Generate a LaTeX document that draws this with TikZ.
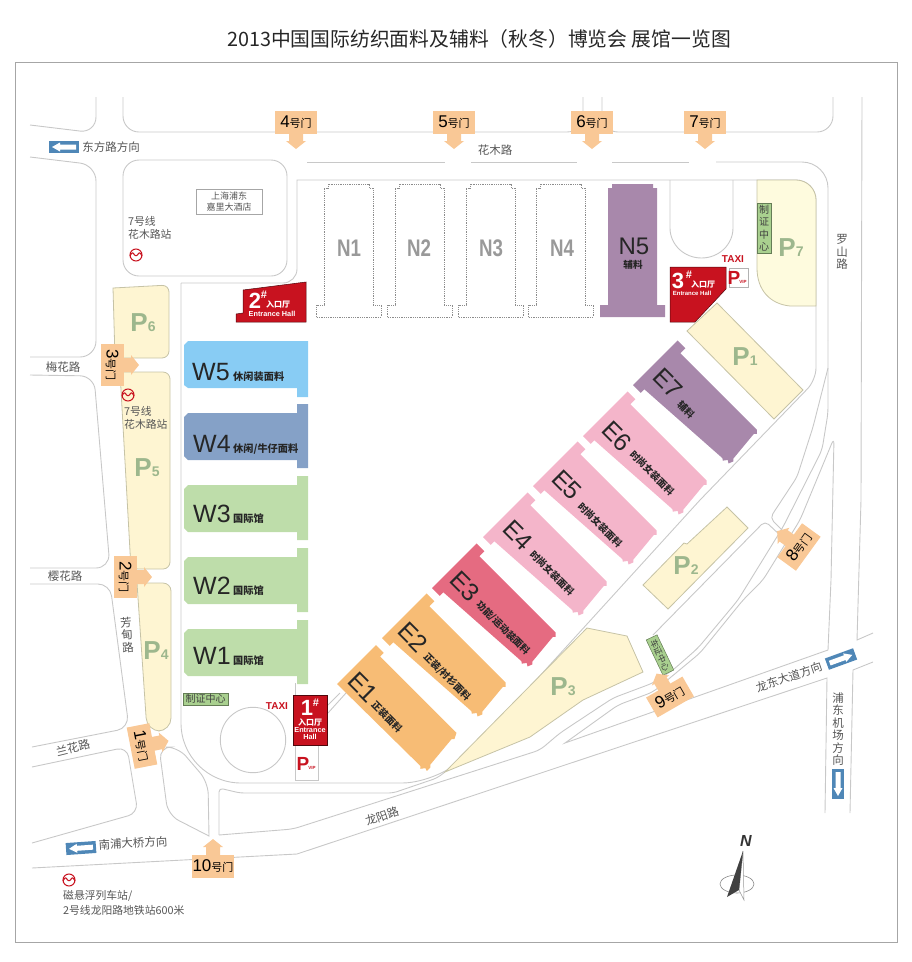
\documentclass[tikz,border=0pt]{standalone}
\usepackage{fontspec}
\setmainfont{Noto Sans CJK SC}
\newfontfamily\lat{Liberation Sans}
\newfontfamily\latnarrow[FakeStretch=0.78]{Liberation Sans}
\definecolor{roadgray}{HTML}{C8C8C8}
\definecolor{textgray}{HTML}{555555}
\definecolor{parkfill}{HTML}{FEF5D2}
\definecolor{parkpale}{HTML}{FEFBDE}
\definecolor{parkedge}{HTML}{C6C3A6}
\definecolor{parkgreen}{HTML}{9DB78D}
\definecolor{gatefill}{HTML}{F9C896}
\definecolor{bluesign}{HTML}{4F87B7}
\definecolor{hallred}{HTML}{C8121F}
\definecolor{chipgreen}{HTML}{A9D08F}
\definecolor{hallw5}{HTML}{88CCF4}
\definecolor{hallw4}{HTML}{85A1C7}
\definecolor{hallw}{HTML}{BEDDAA}
\definecolor{hallorange}{HTML}{F7BC75}
\definecolor{hallrose}{HTML}{E56B81}
\definecolor{hallpink}{HTML}{F4B5CA}
\definecolor{hallpurple}{HTML}{A888AB}
\newcommand{\fs}[1]{\fontsize{#1}{#1}\selectfont}
\newcommand{\gatemark}[6]{
    \fill[gatefill, shift={(#2,#3)}, rotate=#4] (-7,0) -- (-7,19) -- (-10,19) -- (0,27) -- (10,19) -- (7,19) -- (7,0) -- cycle;
    \node[gatebox, rotate=#5] (#1) at (#2,#3) {{\lat\fs{17}#6}{\fs{11}号门}};
}
\newcommand{\bluesignal}[3]{
    \fill[bluesign, shift={(#1,#2)}, rotate=#3] (-15,-6) rectangle (15,6);
    \fill[white, shift={(#1,#2)}, rotate=#3] (-12,0) -- (-4,-4.5) -- (-4,-2.5) -- (12,-2.5) -- (12,2.5) -- (-4,2.5) -- (-4,4.5) -- cycle;
}
\newcommand{\metroicon}[2]{
    \draw[metro] (#1,#2) circle (6pt);
    \draw[metro, shift={(#1,#2)}] (-6,1) .. controls (-4,-3) and (-3,-3) .. (-1.5,0) .. controls (-0.8,1) and (0.8,1) .. (1.5,0) .. controls (3,-3) and (4,-3) .. (6,1);
}
\newcommand{\nhall}[2]{
    \path[#2, shift={(#1,0)}] (0,317) -- (0,305) -- (8,305) -- (8,188) -- (12,188) -- (12,184) -- (53,184) -- (53,188) -- (57,188) -- (57,305) -- (65,305) -- (65,317) -- cycle;
}
\newcommand{\whall}[2]{
    \fill[#2, shift={(0,#1)}] (297,0) -- (308,0) -- (308,64) -- (297,64) -- (297,56) -- (188,56) -- (184,52) -- (184,13) -- (188,9) -- (297,9) -- cycle;
}
\newcommand{\ehall}[3]{
    \fill[#3, shift={(#1,#2)}, rotate=-45] (0,0) -- (11,0) -- (11,-5) -- (115,-11.5) -- (117,-10) -- (120,-14) -- (123,-12) -- (125,-17) -- (123,-19) -- (120,-51) -- (122,-53) -- (119,-56) -- (11,-56) -- (11,-63) -- (0,-63) -- cycle;
}
\newcommand{\plabel}[1]{{\lat\bfseries\fs{26}P\fs{14}#1}}
\newcommand{\hallno}[1]{{\lat\bfseries\fs{22}#1}}
\begin{document}
\begin{tikzpicture}[x=1pt, y=-1pt]
    \tikzstyle{every node} = [inner sep=0pt, align=center]
    \tikzstyle{road} = [draw=roadgray, line width=0.9pt]
    \tikzstyle{park} = [fill=parkfill, draw=parkedge, line width=0.8pt]
    \tikzstyle{gatebox} = [fill=gatefill, minimum width=42pt, minimum height=23pt]
    \tikzstyle{roadtext} = [text=textgray, font=\fontsize{11.5}{12.5}\selectfont]
    \tikzstyle{parktext} = [text=parkgreen]
    \tikzstyle{hallname} = [anchor=base west, font=\lat\fontsize{25}{25}\selectfont, text=black!85]
    \tikzstyle{halltag} = [anchor=base west, font=\bfseries\fontsize{10.2}{11}\selectfont, text=black!85]
    \tikzstyle{ename} = [rotate=-45, font=\lat\fontsize{25}{25}\selectfont, text=black!85]
    \tikzstyle{etag} = [rotate=-45, font=\bfseries\fontsize{9.6}{11}\selectfont, text=black!85]
    \tikzstyle{nname} = [font=\latnarrow\bfseries\fontsize{24}{24}\selectfont, text=black!40]
    \tikzstyle{nshape} = [draw=black!45, line width=0.8pt, densely dotted]
    \tikzstyle{chip} = [fill=chipgreen, draw=black!40!chipgreen, line width=0.5pt, font=\fontsize{10}{12.4}\selectfont, text=black!75]
    \tikzstyle{whitetext} = [text=white, font=\lat\bfseries\fontsize{7.3}{8}\selectfont]
    \tikzstyle{whitecjk} = [text=white, font=\bfseries\fontsize{8}{9}\selectfont]
    \tikzstyle{redtext} = [text=hallred, font=\lat\bfseries\fontsize{10}{10}\selectfont]
    \tikzstyle{metro} = [draw=hallred, line width=1.05pt]
    \useasboundingbox (0,0) rectangle (912,962);
    \node[font=\fontsize{19.8}{20}\selectfont, text=black!85] (title) at (479,39) {2013中国国际纺织面料及辅料（秋冬）博览会 展馆一览图};
    \draw[draw=black!35, line width=1pt] (15,62) rectangle (897,942);
    % roads
    \draw[road, rounded corners=16pt] (30,125) -- (96,133) -- (96,97);
    \draw[road, rounded corners=16pt] (123,97) -- (123,132) -- (583,132) -- (583,97);
    \draw[road, rounded corners=16pt] (602,97) -- (602,132) -- (833,132) -- (833,97);
    \draw[road, rounded corners=16pt] (30,157) -- (96,165) -- (96,357) -- (30,357);
    \draw[road, rounded corners=14pt] (30,375) -- (94,376) -- (110,568) -- (30,568);
    \draw[road, rounded corners=12pt] (30,584) -- (110,584) -- (129,728) -- (32,747);
    \draw[road, rounded corners=10pt] (32,767) -- (127,747) -- (138,813) -- (32,843);
    \draw[road] (32,868) -- (297,854) -- (827,678) -- (825,813);
    \draw[road, rounded corners=6pt] (219,835) -- (293,829) -- (540,750) -- (560,733) -- (613,698) -- (653,683) -- (673,670) -- (698,648) -- (738,600) -- (783,527) -- (822,450) -- (828,413) -- (828,340);
    \draw[road, rounded corners=26pt] (828,340) -- (828,162) -- (716,162);
    \draw[road] (612,162) -- (689,162);
    \draw[road] (471,162) -- (577,162);
    \draw[road] (307,162) -- (445,162);
    \draw[road, rounded corners=4pt] (219,835) -- (219,788) -- (240,793) -- (393,793) -- (437,778) -- (445,772);
    \draw[road, rounded corners=6pt] (565,743) -- (618,705) -- (653,692) -- (700,653) -- (743,600) -- (763,580) -- (800,520) -- (834,438) [sharp corners] -- (831,580) -- (828,650) -- cycle;
    \draw[road] (181,283) [rounded corners=60pt] -- (181,783) [rounded corners=40pt] -- (442,783) [rounded corners=3pt] -- (527,690) -- (700,500) [rounded corners=12pt] -- (816,380) [rounded corners=20pt] -- (816,180) [sharp corners] -- (297,180) [rounded corners=14pt] -- (297,283) -- (181,283);
    \draw[road, rounded corners=12pt] (209,836) -- (168,815) -- (159,747) -- (178,747) -- (208,782) [sharp corners] -- cycle;
    \draw[road] (862,97) -- (861,500) -- (857,640) -- (873,633);
    \draw[road] (873,662) -- (853,670) -- (850,813);
    \draw[road, rounded corners=5pt] (828,368) -- (813,427) -- (797,477) -- (770,518) -- (782,530);
    \draw[road, rounded corners=5pt] (653,635) -- (765,521) -- (782,537);
    \draw[road] (328,713) -- (346,693);
    \draw[road] (328,705) -- (340,693);
    \draw[road] (295,683) -- (295,780) -- (318,780) -- (318,745);
    \draw[road] (253,740) circle (32.7pt);
    \draw[road] (670,180) -- (670,228) arc[start angle=180, end angle=360, x radius=31.5pt, y radius=30pt] -- (733,180);
    \draw[road, rounded corners=16pt] (123,160) rectangle (287,276);
    % parking
    \draw[park, rounded corners=7pt] (113,288) -- (169,285) -- (169,358) -- (115,358) [sharp corners] -- cycle;
    \draw[park, rounded corners=7pt] (120,372) -- (170,372) -- (170,569) -- (131,569) [sharp corners] -- cycle;
    \draw[park, rounded corners=8pt] (137,583) -- (171,583) [rounded corners=13pt] -- (171,731) -- (147,731) [sharp corners] -- cycle;
    \draw[park, fill=parkpale, rounded corners=20pt] (757,180) -- (816,180) [sharp corners] -- (816,306) -- (790,306) .. controls (770,304) and (757,290) .. (757,268) -- cycle;
    \draw[park] (717,303) -- (803,390) -- (774,419) -- (687,331) -- cycle;
    \draw[park] (727,507) -- (748,528) -- (668,609) -- (643,585) -- (684,543) -- (687,544) -- cycle;
    \draw[park] (445,772) -- (587,628) -- (627,636) -- (643,672) -- (583,700) -- (530,737) -- cycle;
    \node[parktext] (labelP6) at (143,323) {\plabel{6}};
    \node[parktext] (labelP5) at (147,468) {\plabel{5}};
    \node[parktext] (labelP4) at (156,651) {\plabel{4}};
    \node[parktext] (labelP7) at (791,248) {\plabel{7}};
    \node[parktext] (labelP1) at (745,357) {\plabel{1}};
    \node[parktext] (labelP2) at (686,566) {\plabel{2}};
    \node[parktext] (labelP3) at (563,687) {\plabel{3}};
    % north halls
    \nhall{316}{nshape}
    \nhall{387}{nshape}
    \nhall{458}{nshape}
    \nhall{528}{nshape}
    \nhall{600}{fill=hallpurple}
    \node[nname] (labelN1) at (349,248) {N1};
    \node[nname] (labelN2) at (419,248) {N2};
    \node[nname] (labelN3) at (491,248) {N3};
    \node[nname] (labelN4) at (562,248) {N4};
    \node[font=\lat\fontsize{24}{24}\selectfont, text=black!85] (labelN5) at (634,246) {N5};
    \node[font=\bfseries\fontsize{9.6}{10}\selectfont, text=black!85] (tagN5) at (633,265) {辅料};
    % west halls
    \fill[hallw5] (184,345) -- (188,341) -- (308,341) -- (308,397) -- (297,397) -- (297,388) -- (188,388) -- (184,385) -- cycle;
    \whall{404}{hallw4}
    \whall{476}{hallw}
    \whall{548}{hallw}
    \whall{620}{hallw}
    \node[hallname] (labelW5) at (192,380) {W5};
    \node[hallname] (labelW4) at (193,452) {W4};
    \node[hallname] (labelW3) at (193,522) {W3};
    \node[hallname] (labelW2) at (193,594) {W2};
    \node[hallname] (labelW1) at (193,664) {W1};
    \node[halltag] (tagW5) at (233,380) {休闲装面料};
    \node[halltag] (tagW4) at (233,452) {休闲/牛仔面料};
    \node[halltag] (tagW3) at (233,522) {国际馆};
    \node[halltag] (tagW2) at (233,594) {国际馆};
    \node[halltag] (tagW1) at (233,664) {国际馆};
    % east halls
    \fill[hallorange, shift={(337,684)}, rotate=-45] (0,0) -- (117,-1) -- (119,1) -- (122,-3) -- (125,-2) -- (125,-7) -- (123,-9) -- (120,-42) -- (122,-44) -- (119,-50) -- (11,-50) -- (11,-55) -- (0,-55) -- cycle;
    \ehall{382}{638}{hallorange}
    \ehall{432}{588}{hallrose}
    \ehall{483}{537}{hallpink}
    \ehall{533}{486}{hallpink}
    \ehall{583}{436}{hallpink}
    \ehall{633}{385}{hallpurple}
    \node[ename] (labelE1) at (363,687) {E1};
    \node[ename] (labelE2) at (413,637) {E2};
    \node[ename] (labelE3) at (465,586) {E3};
    \node[ename] (labelE4) at (518,535) {E4};
    \node[ename] (labelE5) at (567,485) {E5};
    \node[ename] (labelE6) at (617,436) {E6};
    \node[ename] (labelE7) at (668,383) {E7};
    \node[etag] (tagE1) at (387,717) {正装面料};
    \node[etag] (tagE2) at (447,677) {正装/衬衫面料};
    \node[etag] (tagE3) at (503,628) {功能/运动装面料};
    \node[etag] (tagE4) at (552,573) {时尚女装面料};
    \node[etag] (tagE5) at (600,525) {时尚女装面料};
    \node[etag] (tagE6) at (652,473) {时尚女装面料};
    \node[etag] (tagE7) at (686,410) {辅料};
    % entrance halls
    \draw[fill=hallred, draw=black!60!hallred, line width=0.5pt] (243,290) -- (306,282) -- (306,322) -- (236,322) -- (236,314) -- (243,313) -- cycle;
    \node[text=white] (no2) at (255,301) {\hallno{2}};
    \node[text=white] (hash2) at (264,295) {\lat\bfseries\fs{11}\#};
    \node[whitecjk] (cn2) at (278,304) {入口厅};
    \node[whitetext] (en2) at (272,314) {Entrance Hall};
    \draw[fill=hallred, draw=black!60!hallred, line width=0.5pt] (670,267) -- (726,267) -- (726,289) -- (695,322) -- (670,322) -- cycle;
    \node[text=white] (no3) at (678,281) {\hallno{3}};
    \node[text=white] (hash3) at (689,275) {\lat\bfseries\fs{11}\#};
    \node[whitecjk] (cn3) at (703,284) {入口厅};
    \node[whitetext, font=\lat\bfseries\fontsize{6}{7}\selectfont] (en3) at (692,293) {Entrance Hall};
    \node[redtext] (taxi3) at (733,259) {TAXI};
    \node[fill=white, draw=black!30, line width=0.6pt, minimum width=19pt, minimum height=19pt] (vipbox3) at (738.5,277.5) {};
    \node[redtext, font=\lat\bfseries\fontsize{19}{19}\selectfont] (vipP3) at (734,278) {P};
    \node[redtext, font=\lat\bfseries\fontsize{4.5}{5}\selectfont] (vip3) at (743,282) {VIP};
    \draw[fill=hallred, draw=black!60!hallred, line width=0.5pt] (293,695) rectangle (327,745);
    \node[text=white] (no1) at (307,708) {\hallno{1}};
    \node[text=white] (hash1) at (316,703) {\lat\bfseries\fs{11}\#};
    \node[whitecjk] (cn1) at (310,722) {入口厅};
    \node[whitetext] (en1) at (310,733.5) {Entrance\\[-0.5pt]Hall};
    \node[redtext] (taxi1) at (277,706) {TAXI};
    \node[redtext, font=\lat\bfseries\fontsize{19}{19}\selectfont] (vipP1) at (303,764) {P};
    \node[redtext, font=\lat\bfseries\fontsize{4.5}{5}\selectfont] (vip1) at (312,768) {VIP};
    % certificate centres
    \node[chip, minimum width=45pt, minimum height=12pt] (chipW) at (205.5,699) {制证中心};
    \node[chip, minimum width=14pt, minimum height=50pt] (chipN) at (764,228) {制\\证\\中\\心};
    \node[chip, rotate=-64.5, minimum width=39pt, minimum height=12pt, font=\fontsize{8.5}{9}\selectfont] (chipE) at (660,655) {车证中心};
    % gates
    \gatemark{gate4}{296}{122}{0}{0}{4}
    \gatemark{gate5}{454}{122}{0}{0}{5}
    \gatemark{gate6}{592}{122}{0}{0}{6}
    \gatemark{gate7}{705}{122}{0}{0}{7}
    \gatemark{gate3}{112}{365}{90}{-90}{3}
    \gatemark{gate2}{125}{577}{90}{-90}{2}
    \gatemark{gate1}{142}{746}{101}{-79}{1}
    \gatemark{gate8}{799}{547}{234}{54}{8}
    \gatemark{gate9}{670}{697}{210}{30}{9}
    \gatemark{gate10}{213}{866}{180}{0}{10}
    % direction signs
    \bluesignal{64}{147}{0}
    \bluesignal{81}{848}{4}
    \bluesignal{841}{659}{200}
    \bluesignal{838}{784}{90}
    \node[roadtext] (dirE) at (111,147) {东方路方向};
    \node[roadtext] (dirS) at (133,843) [rotate=3] {南浦大桥方向};
    \node[roadtext] (dirL) at (789,677) [rotate=18.5] {龙东大道方向};
    \node[roadtext] (dirP) at (838,729) {浦\\东\\机\\场\\方\\向};
    \node[roadtext] (rdHua) at (495,150) {花木路};
    \node[roadtext] (rdMei) at (63,367) {梅花路};
    \node[roadtext] (rdYing) at (65,576) {樱花路};
    \node[roadtext] (rdLan) at (73,748) [rotate=14] {兰花路};
    \node[roadtext] (rdFang) at (127,635) [rotate=5] {芳\\甸\\路};
    \node[roadtext] (rdLuo) at (842,252) {罗\\山\\路};
    \node[roadtext] (rdLong) at (382,816) [rotate=19] {龙阳路};
    % metro and hotel
    \node[draw=black!35, line width=0.7pt, minimum width=66pt, minimum height=25pt, text=textgray, font=\fontsize{9}{11}\selectfont] (hotel) at (229,201.5) {上海浦东\\嘉里大酒店};
    \metroicon{136}{255}
    \metroicon{128}{395}
    \metroicon{69}{880}
    \node[roadtext, anchor=west, align=left, font=\fontsize{10.8}{12.5}\selectfont] (metroHua1) at (128,228) {7号线\\花木路站};
    \node[roadtext, anchor=west, align=left, font=\fontsize{10.8}{12.5}\selectfont] (metroHua2) at (124,418) {7号线\\花木路站};
    \node[roadtext, anchor=west, align=left, font=\fontsize{10.8}{15}\selectfont] (metroLong) at (63,903) {磁悬浮列车站/\\2号线龙阳路地铁站600米};
    % compass
    \draw[black!45, line width=0.6pt] (737,884) ellipse (17pt and 9pt);
    \fill[white, draw=black!40, line width=0.5pt] (743,851) -- (739,890) -- (744,900) -- cycle;
    \fill[black!75] (743,851) -- (727,897) -- (739,890) -- cycle;
    \node[font=\lat\bfseries\itshape\fontsize{16}{16}\selectfont, text=black!80] (north) at (746,841) {N};
\end{tikzpicture}
\end{document}
